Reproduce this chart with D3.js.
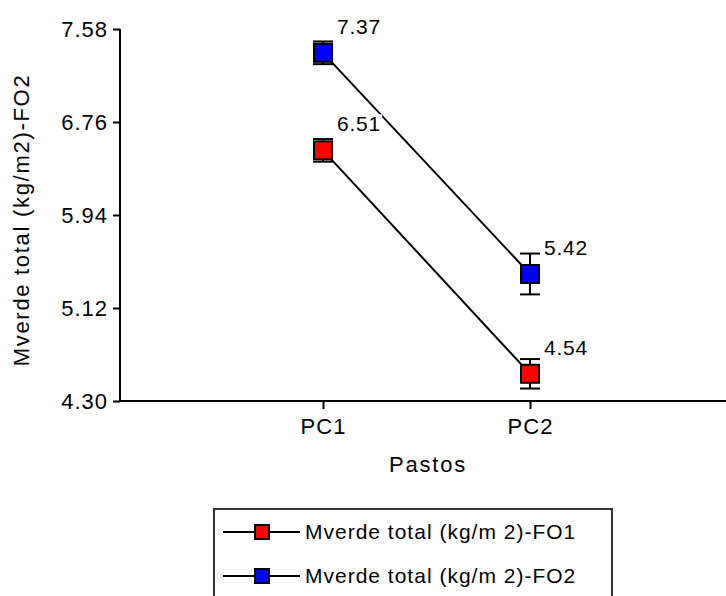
<!DOCTYPE html>
<html>
<head>
<meta charset="utf-8">
<script src="https://cdn.jsdelivr.net/npm/d3@7"></script>
<style>
  html, body { margin: 0; padding: 0; background: #fff; }
  svg { display: block; font-family: "Liberation Sans", Arial, sans-serif; }
</style>
</head>
<body>
<svg id="chart" width="726" height="596"></svg>
<script>
// Categories and series
const categories = ["PC1", "PC2"];
const seriesNames = ["Mverde total (kg/m 2)-FO1", "Mverde total (kg/m 2)-FO2"];
const fo1Values = [6.51, 4.54];
const fo2Values = [7.37, 5.42];
const fo1Errors = [0.10, 0.13];
const fo2Errors = [0.10, 0.18];
const seriesColors = ["#ff0000", "#0000ff"];
const yTicks = [4.30, 5.12, 5.94, 6.76, 7.58];

const series = [
  { name: seriesNames[0], values: fo1Values, errors: fo1Errors, color: seriesColors[0] },
  { name: seriesNames[1], values: fo2Values, errors: fo2Errors, color: seriesColors[1] }
];

const svg = d3.select("#chart");
const axisLeftX = 120, axisBottomY = 401, axisTopY = 29, axisRightX = 726;

const x = d3.scalePoint().domain(categories).range([323, 530]);
const y = d3.scaleLinear().domain([4.30, 7.58]).range([axisBottomY, axisTopY]);

// Y axis
const yAxis = svg.append("g")
  .attr("transform", `translate(${axisLeftX},0)`)
  .call(d3.axisLeft(y).tickValues(yTicks).tickFormat(d3.format(".2f")).tickSize(7).tickPadding(5));
yAxis.select(".domain").remove();
yAxis.selectAll(".tick line").attr("stroke", "#000").attr("stroke-width", 2);
yAxis.selectAll(".tick text")
  .attr("font-size", 22).attr("letter-spacing", 1).attr("fill", "#000")
  .attr("font-family", "Liberation Sans, Arial, sans-serif").attr("dy", "0.36em");
svg.append("line")
  .attr("x1", axisLeftX).attr("x2", axisLeftX)
  .attr("y1", y(7.58)).attr("y2", axisBottomY + 1)
  .attr("stroke", "#000").attr("stroke-width", 2);

// X axis
const xAxis = svg.append("g")
  .attr("transform", `translate(0,${axisBottomY})`)
  .call(d3.axisBottom(x).tickSize(8).tickPadding(9));
xAxis.select(".domain").remove();
xAxis.selectAll(".tick line").attr("stroke", "#000").attr("stroke-width", 2);
xAxis.selectAll(".tick text")
  .attr("font-size", 22).attr("letter-spacing", 1).attr("fill", "#000")
  .attr("font-family", "Liberation Sans, Arial, sans-serif");
svg.append("line")
  .attr("x1", axisLeftX - 1).attr("x2", axisRightX)
  .attr("y1", axisBottomY).attr("y2", axisBottomY)
  .attr("stroke", "#000").attr("stroke-width", 2);

// Axis titles
svg.append("text")
  .attr("x", 428).attr("y", 472)
  .attr("text-anchor", "middle")
  .attr("font-size", 22).attr("letter-spacing", 1.8)
  .text("Pastos");
svg.append("text")
  .attr("transform", `translate(29,220) rotate(-90)`)
  .attr("text-anchor", "middle")
  .attr("font-size", 22).attr("letter-spacing", 1.7)
  .text("Mverde total (kg/m2)-FO2");

// Connecting lines
const line = d3.line().x((d, i) => x(categories[i])).y(d => y(d));
series.forEach(s => {
  svg.append("path")
    .attr("d", line(s.values))
    .attr("fill", "none").attr("stroke", "#000").attr("stroke-width", 2);
});

// Value labels with a white backing so they sit on top of the lines
series.forEach(s => {
  s.values.forEach((v, i) => {
    const g = svg.append("g");
    const t = g.append("text")
      .attr("x", x(categories[i]) + 14)
      .attr("y", y(v) - 19)
      .attr("font-size", 21).attr("letter-spacing", 0.8)
      .attr("fill", "#000")
      .text(d3.format(".2f")(v));
    const bb = t.node().getBBox();
    g.insert("rect", "text")
      .attr("x", bb.x - 1).attr("y", bb.y + 2)
      .attr("width", bb.width + 2).attr("height", bb.height - 4)
      .attr("fill", "#fff");
  });
});

// Error bars and markers
const cap = 10, half = 9;
series.forEach(s => {
  s.values.forEach((v, i) => {
    const cx = x(categories[i]);
    const e = s.errors[i];
    const g = svg.append("g").attr("stroke", "#000").attr("stroke-width", 2);
    g.append("line").attr("x1", cx).attr("x2", cx).attr("y1", y(v + e)).attr("y2", y(v - e));
    g.append("line").attr("x1", cx - cap).attr("x2", cx + cap).attr("y1", y(v + e)).attr("y2", y(v + e));
    g.append("line").attr("x1", cx - cap).attr("x2", cx + cap).attr("y1", y(v - e)).attr("y2", y(v - e));
    svg.append("rect")
      .attr("x", cx - half).attr("y", y(v) - half)
      .attr("width", half * 2).attr("height", half * 2)
      .attr("fill", s.color).attr("stroke", "#000").attr("stroke-width", 2);
  });
});

// Legend
const legend = svg.append("g");
legend.append("rect")
  .attr("x", 214).attr("y", 509).attr("width", 398).attr("height", 120)
  .attr("fill", "#fff").attr("stroke", "#333").attr("stroke-width", 2);
series.forEach((s, i) => {
  const ly = 532 + i * 44;
  legend.append("line")
    .attr("x1", 223).attr("x2", 300).attr("y1", ly).attr("y2", ly)
    .attr("stroke", "#000").attr("stroke-width", 2);
  legend.append("rect")
    .attr("x", 255).attr("y", ly - 7).attr("width", 14).attr("height", 14)
    .attr("fill", s.color).attr("stroke", "#000").attr("stroke-width", 2);
  legend.append("text")
    .attr("x", 305).attr("y", ly + 7)
    .attr("font-size", 21).attr("letter-spacing", 1)
    .text(s.name);
});
</script>
</body>
</html>
